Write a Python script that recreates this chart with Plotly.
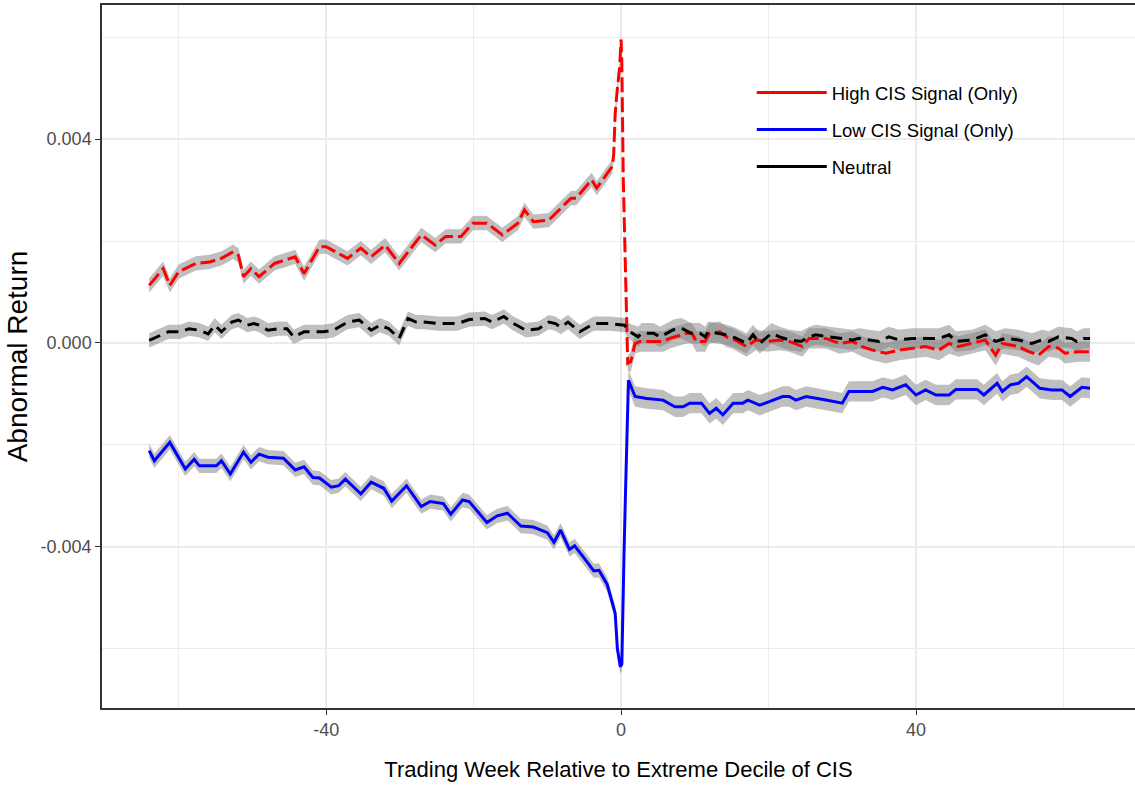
import plotly.graph_objects as go

# ---------------- data ----------------
high_x = [-64.0,-62.1,-61.2,-60.0,-57.7,-55.8,-54.2,-52.6,-51.9,-51.2,-50.2,-49.1,-47.0,-44.2,-43.0,-40.9,-40.0,
          -37.1,-35.3,-33.9,-32.0,-30.1,-27.1,-25.2,-23.8,-21.7,-20.1,-18.2,-16.1,-14.0,-13.1,-11.9,-9.8,-6.8,-6.1,
          -4.0,-3.3,-1.2,-1.0,-0.8,-0.5,-0.2,0.0,0.1,0.3,0.6,0.9,1.3,1.9,2.6,5.7,6.6,8.9,9.6,10.2,11.4,12.0,13.4,
          14.3,15.2,17.0,18.3,19.7,21.5,22.8,24.6,25.5,27.8,29.6,31.4,32.7,34.1,35.9,37.7,39.5,41.3,43.1,44.5,45.8,
          47.6,49.4,50.8,51.7,53.9,55.3,56.6,58.0,59.3,60.2,62.0,63.6]
high_y = [0.00113,0.00146,0.00113,0.00140,0.00156,0.00159,0.00166,0.00179,0.00172,0.00130,0.00146,0.00130,0.00156,
          0.00169,0.00136,0.00189,0.00189,0.00166,0.00186,0.00169,0.00192,0.00156,0.00212,0.00192,0.00209,0.00209,
          0.00235,0.00235,0.00212,0.00235,0.00261,0.00238,0.00241,0.00284,0.00284,0.00320,0.00304,0.00346,0.00370,
          0.00450,0.00500,0.00540,0.00595,0.00550,0.00320,0.00160,-0.00040,-0.00037,-0.00001,0.00003,0.00003,
          0.00009,0.00019,0.00019,0.00003,0.00003,0.00019,0.00022,0.00012,0.00008,-0.00007,0.00006,0.00003,0.00006,
          0.00003,-0.00007,0.00009,0.00009,-0.00001,0.00003,-0.00007,-0.00014,-0.00020,-0.00014,-0.00010,-0.00007,
          -0.00014,-0.00001,-0.00007,-0.00001,0.00006,-0.00024,-0.00001,-0.00007,-0.00017,-0.00024,-0.00007,
          -0.00010,-0.00020,-0.00017,-0.00017]

low_x = [-64.0,-63.3,-61.2,-59.1,-57.9,-57.2,-54.9,-54.2,-53.0,-51.2,-50.2,-49.1,-47.9,-45.8,-44.2,-43.0,-41.8,
         -40.9,-39.3,-38.3,-37.4,-35.3,-33.9,-32.2,-31.1,-29.1,-27.1,-25.9,-24.1,-23.1,-21.5,-20.6,-18.2,-16.8,
         -15.4,-13.6,-11.9,-10.0,-9.1,-8.2,-7.0,-6.3,-4.9,-3.7,-3.0,-1.9,-1.2,-0.8,-0.5,-0.1,0.1,0.2,0.4,0.6,0.8,
         1.0,1.9,3.5,5.7,7.3,8.4,9.3,10.9,12.0,12.9,13.8,15.2,16.5,17.2,18.8,20.1,21.9,22.8,23.7,25.1,26.4,27.8,
         30.0,30.9,34.1,35.5,36.8,38.6,40.0,41.3,42.7,44.5,45.4,48.3,49.2,51.0,51.7,52.8,53.9,55.0,56.8,58.4,
         59.8,60.9,62.5,63.6]
low_y = [-0.00211,-0.00231,-0.00195,-0.00247,-0.00228,-0.00241,-0.00241,-0.00231,-0.00257,-0.00214,-0.00234,
         -0.00218,-0.00224,-0.00226,-0.00249,-0.00243,-0.00264,-0.00265,-0.00283,-0.00280,-0.00267,-0.00296,
         -0.00273,-0.00285,-0.00310,-0.00280,-0.00321,-0.00311,-0.00315,-0.00336,-0.00308,-0.00311,-0.00352,
         -0.00339,-0.00334,-0.00359,-0.00361,-0.00372,-0.00391,-0.00367,-0.00405,-0.00398,-0.00424,-0.00447,
         -0.00446,-0.00473,-0.00509,-0.00530,-0.00600,-0.00635,-0.00630,-0.00523,-0.00412,-0.00294,-0.00184,
         -0.00073,-0.00105,-0.00109,-0.00112,-0.00125,-0.00125,-0.00118,-0.00118,-0.00138,-0.00128,-0.00141,
         -0.00118,-0.00118,-0.00112,-0.00122,-0.00115,-0.00105,-0.00105,-0.00112,-0.00105,-0.00109,-0.00112,
         -0.00118,-0.00095,-0.00095,-0.00087,-0.00092,-0.00082,-0.00102,-0.00092,-0.00102,-0.00102,-0.00091,
         -0.00091,-0.00102,-0.00079,-0.00095,-0.00082,-0.00079,-0.00066,-0.00089,-0.00092,-0.00092,-0.00105,
         -0.00087,-0.00089]

neutral_x = [-64.0,-63.0,-61.4,-59.8,-58.6,-57.2,-56.0,-55.1,-54.2,-52.8,-51.9,-50.7,-49.8,-49.1,-47.9,-46.5,
             -45.3,-44.4,-43.0,-40.4,-39.0,-37.1,-35.5,-33.9,-32.7,-31.5,-30.1,-28.9,-27.8,-26.8,-24.8,-22.2,
             -20.6,-18.5,-17.5,-15.9,-14.7,-12.9,-11.2,-9.8,-8.9,-8.2,-7.2,-5.6,-3.7,-1.6,0.5,0.9,2.3,2.8,4.4,
             5.3,7.1,8.2,9.5,10.7,11.4,11.8,12.9,14.3,15.5,17.0,17.9,18.8,20.4,21.5,22.8,24.4,25.5,26.4,28.2,
             29.6,31.4,32.3,33.6,35.0,36.3,37.7,39.5,41.3,43.1,44.5,45.4,47.6,49.4,50.8,52.1,53.9,55.7,57.1,
             58.0,59.3,61.1,61.8,62.7,63.6]
neutral_y = [0.00005,0.00012,0.00022,0.00022,0.00028,0.00025,0.00018,0.00035,0.00022,0.00041,0.00045,0.00035,
             0.00038,0.00035,0.00025,0.00028,0.00028,0.00012,0.00022,0.00022,0.00025,0.00041,0.00045,0.00025,
             0.00035,0.00028,0.00009,0.00048,0.00041,0.00041,0.00038,0.00038,0.00046,0.00048,0.00041,0.00052,
             0.00039,0.00025,0.00028,0.00041,0.00038,0.00031,0.00041,0.00022,0.00038,0.00038,0.00035,0.00025,
             0.00012,0.00019,0.00019,0.00012,0.00026,0.00029,0.00019,0.00019,0.00012,0.00022,0.00019,0.00016,
             0.00010,-0.00001,0.00016,-0.00001,0.00019,0.00012,0.00006,0.00003,0.00012,0.00016,0.00012,0.00009,
             0.00006,0.00009,0.00006,0.00003,0.00012,0.00006,0.00009,0.00009,0.00009,0.00016,0.00003,0.00006,
             0.00016,0.00003,0.00009,0.00006,-0.00001,0.00006,0.00003,0.00012,0.00009,0.00003,0.00009,0.00009]

series_names = ["High CIS Signal (Only)", "Low CIS Signal (Only)", "Neutral"]
se_before = 0.00014   # half-width of confidence band before the event
se_after = 0.00020    # half-width of confidence band after the event

x_ticks = [-40, 0, 40]
x_minor = [-60, -20, 20, 60]
y_ticks = [-0.004, 0.0, 0.004]
y_ticklabels = ["-0.004", "0.000", "0.004"]
y_minor = [-0.006, -0.002, 0.002, 0.006]

# ---------------- figure ----------------
FONT = "Liberation Sans, Arial, sans-serif"

series = [
    (high_x, high_y, "red", "15px,5px", series_names[0]),
    (low_x, low_y, "#0000ff", "solid", series_names[1]),
    (neutral_x, neutral_y, "black", "12px,7px", series_names[2]),
]

fig = go.Figure()

# ribbons
for xs, ys, col, dash, name in series:
    assert len(xs) == len(ys), name
    se = [se_before if x < 1 else se_after for x in xs]
    up = [y + s for y, s in zip(ys, se)]
    lo = [y - s for y, s in zip(ys, se)]
    fig.add_trace(go.Scatter(x=xs + xs[::-1], y=up + lo[::-1], fill="toself",
                             fillcolor="rgba(128,128,128,0.5)", line=dict(width=0),
                             mode="lines", hoverinfo="skip", showlegend=False))

# lines
for xs, ys, col, dash, name in series:
    fig.add_trace(go.Scatter(x=xs, y=ys, mode="lines", line=dict(color=col, width=3, dash=dash),
                             name=name, showlegend=False))

# legend entries (solid keys, as in the reference)
for i, (xs, ys, col, dash, name) in enumerate(series):
    fig.add_trace(go.Scatter(x=[None], y=[None], mode="lines", line=dict(color=col, width=3),
                             name=name, legendgroup=f"g{i}", showlegend=True))

# white legend background hiding grid lines
fig.add_shape(type="rect", xref="paper", yref="paper", x0=0.608, x1=0.898, y0=0.7226, y1=0.9716,
              fillcolor="white", line=dict(width=0), layer="between")

fig.update_layout(
    width=1135, height=789,
    margin=dict(l=102, r=0, t=5, b=81),
    paper_bgcolor="white", plot_bgcolor="white",
    showlegend=True,
    legend=dict(x=0.629, y=0.902, xanchor="left", yanchor="top", bgcolor="rgba(0,0,0,0)",
                font=dict(family=FONT, size=18.5, color="black"), itemwidth=70,
                tracegroupgap=10),
    font=dict(family=FONT),
)

fig.update_xaxes(
    range=[-70.4, 69.7], tickvals=x_ticks, ticktext=[str(v) for v in x_ticks],
    showgrid=True, gridcolor="#ebebeb", gridwidth=1.6, zeroline=False,
    minor=dict(tickvals=x_minor, showgrid=True, gridcolor="#ebebeb", gridwidth=1, ticks=""),
    showline=True, linecolor="#333333", linewidth=1.5, mirror=True,
    ticks="outside", ticklen=5, tickcolor="#333333", tickwidth=1,
    tickfont=dict(family=FONT, size=18, color="#4d4d4d"),
    title=dict(text="Trading Week Relative to Extreme Decile of CIS",
               font=dict(family=FONT, size=22, color="black"), standoff=22),
)
fig.update_yaxes(
    range=[-0.00716, 0.00663], tickvals=y_ticks, ticktext=y_ticklabels,
    showgrid=True, gridcolor="#ebebeb", gridwidth=1.6, zeroline=False,
    minor=dict(tickvals=y_minor, showgrid=True, gridcolor="#ebebeb", gridwidth=1, ticks=""),
    showline=True, linecolor="#333333", linewidth=1.5, mirror=False,
    ticks="outside", ticklen=5, tickcolor="#333333", tickwidth=1,
    tickfont=dict(family=FONT, size=18, color="#4d4d4d"),
    title=dict(text="Abnormal Return", font=dict(family=FONT, size=28, color="black"), standoff=5),
)

fig.write_html("out.html")
